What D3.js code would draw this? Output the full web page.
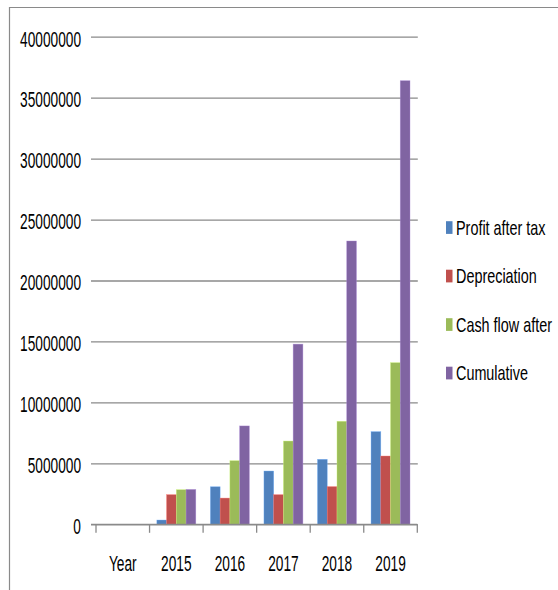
<!DOCTYPE html>
<html>
<head>
<meta charset="utf-8">
<script src="https://cdn.jsdelivr.net/npm/d3@7"></script>
<style>
  html, body { margin: 0; padding: 0; background: #fff; }
  svg { display: block; }
  text { font-family: "Liberation Sans", Arial, sans-serif; fill: #000; }
</style>
</head>
<body>
<svg id="chart" width="558" height="590"></svg>
<script>
// Categories and series
const categories = ["Year", "2015", "2016", "2017", "2018", "2019"];
const seriesNames = ["Profit after tax", "Depreciation", "Cash flow after", "Cumulative"];
const profitAfterTax = [0, 350000, 3080000, 4370000, 5330000, 7600000];
const depreciation   = [0, 2430000, 2150000, 2430000, 3090000, 5600000];
const cashFlowAfter  = [0, 2840000, 5220000, 6830000, 8450000, 13260000];
const cumulative     = [0, 2860000, 8070000, 14780000, 23240000, 36390000];
const yTicks = [0, 5000000, 10000000, 15000000, 20000000, 25000000, 30000000, 35000000, 40000000];
const seriesColors = ["#4F81BD", "#C0504D", "#9BBB59", "#8064A2"];

const seriesValues = [profitAfterTax, depreciation, cashFlowAfter, cumulative];

const svg = d3.select("#chart");

// frame of the chart area
svg.append("path")
  .attr("d", "M9.5,600 L9.5,7.5 L570,7.5")
  .attr("fill", "none")
  .attr("stroke", "#8a8a8a")
  .attr("stroke-width", 1.2);

const plot = { left: 96, right: 417.3, top: 36.7, bottom: 524.3 };

const x = d3.scaleBand()
  .domain(categories)
  .range([plot.left, plot.right])
  .paddingInner(0)
  .paddingOuter(0);

const xInner = d3.scaleBand()
  .domain(seriesNames)
  .range([0, x.bandwidth()])
  .paddingInner(0)
  .paddingOuter(0.75);

const y = d3.scaleLinear()
  .domain([0, 40000000])
  .range([plot.bottom, plot.top]);

// y axis: gridlines extend left past the plot as tick marks
const yAxis = svg.append("g")
  .attr("transform", `translate(${plot.left - 5},0)`)
  .call(d3.axisLeft(y)
    .tickValues(yTicks)
    .tickFormat(d3.format("d"))
    .tickSize(-(plot.right - plot.left + 5.5))
    .tickPadding(10));
yAxis.select(".domain").remove();
yAxis.selectAll(".tick line")
  .attr("stroke", "#8a8a8a")
  .attr("stroke-width", 1.3);
yAxis.selectAll(".tick text")
  .attr("x", null).attr("dy", null)
  .attr("text-anchor", "end")
  .attr("dominant-baseline", "central")
  .style("font-size", "13.7px")
  .attr("transform", "translate(-10,1.5) scale(1,1.63)");

// bars
const groups = svg.append("g")
  .selectAll("g")
  .data(categories)
  .join("g")
  .attr("transform", d => `translate(${x(d)},0)`);

groups.selectAll("rect")
  .data((c, i) => seriesNames.map((s, k) => ({ s, k, v: seriesValues[k][i] })))
  .join("rect")
  .attr("x", d => xInner(d.s))
  .attr("width", xInner.bandwidth())
  .attr("y", d => y(d.v))
  .attr("height", d => y(0) - y(d.v))
  .attr("fill", d => seriesColors[d.k])
  .attr("stroke", d => d3.color(seriesColors[d.k]).brighter(0.8))
  .attr("stroke-width", 0.6)
  .attr("stroke-opacity", 0.6);

// x axis line, boundary ticks and labels
const xAxis = svg.append("g")
  .attr("transform", `translate(0,${plot.bottom})`);
xAxis.append("line")
  .attr("x1", plot.left - 5).attr("x2", plot.right)
  .attr("stroke", "#8a8a8a").attr("stroke-width", 1.3);
const boundaries = categories.map(c => x(c)).concat([x(categories[categories.length - 1]) + x.step()]);
xAxis.selectAll(".btick")
  .data(boundaries)
  .join("line")
  .attr("class", "btick")
  .attr("x1", d => d).attr("x2", d => d)
  .attr("y1", 0).attr("y2", 8.5)
  .attr("stroke", "#8a8a8a").attr("stroke-width", 1.3);

const xLabels = svg.append("g")
  .call(d3.axisBottom(x).tickSize(0).tickPadding(0));
xLabels.attr("transform", `translate(0,${plot.bottom})`);
xLabels.select(".domain").remove();
xLabels.selectAll(".tick text")
  .attr("y", null).attr("dy", null)
  .attr("text-anchor", "middle")
  .attr("dominant-baseline", "central")
  .style("font-size", "13.7px")
  .attr("transform", "translate(0,38.5) scale(1,1.63)");

// legend
const legend = svg.append("g")
  .selectAll("g")
  .data(seriesNames)
  .join("g")
  .attr("transform", (d, i) => `translate(446,${227.5 + i * 48.5})`);
legend.append("rect")
  .attr("x", 0).attr("y", -6.3)
  .attr("width", 6.5).attr("height", 12.7)
  .attr("fill", (d, i) => seriesColors[i]);
legend.append("text")
  .attr("dominant-baseline", "central")
  .style("font-size", "14.4px")
  .attr("transform", "translate(10,0.5) scale(1,1.36)")
  .text(d => d);
</script>
</body>
</html>
